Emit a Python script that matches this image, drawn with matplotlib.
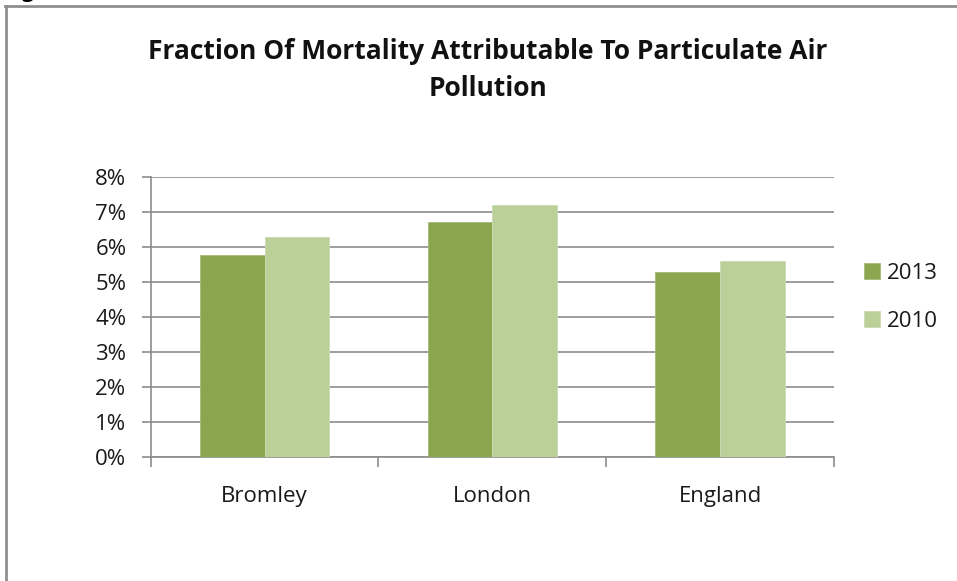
import matplotlib
matplotlib.use("Agg")
import matplotlib.pyplot as plt
from matplotlib.lines import Line2D
from matplotlib.ticker import FuncFormatter, FixedLocator
import numpy as np

categories = ["Bromley", "London", "England"]
series_names = ["2013", "2010"]
values_2013 = [5.77, 6.73, 5.29]
values_2010 = [6.29, 7.20, 5.59]
y_ticks = [0, 1, 2, 3, 4, 5, 6, 7, 8]
title = "Fraction Of Mortality Attributable To Particulate Air\nPollution"

c2013 = "#8AA64E"
c2010 = "#BBCF98"
grid_c = "#8C8C8C"
font = "Open Sans"

fig = plt.figure(figsize=(9.57, 5.81), dpi=100)
fig.patch.set_facecolor("white")
ax = fig.add_axes([150.7/957, 1-456.7/581, (834-150.7)/957, (456.7-177.3)/581])

x = np.arange(len(categories))
w = 0.284
ax.bar(x - w/2, values_2013, w, color=c2013, edgecolor="#A3B978", linewidth=0.6, label=series_names[0], zorder=3)
ax.bar(x + w/2, values_2010, w, color=c2010, edgecolor="#CCDBB2", linewidth=0.6, label=series_names[1], zorder=3)

ax.set_xlim(-0.5, 2.5)
ax.set_ylim(0, 8)
ax.set_yticks(y_ticks)
ax.yaxis.set_major_formatter(FuncFormatter(lambda v, p: f"{int(v)}%"))
ax.set_xticks(x)
ax.set_xticklabels(categories)
ax.xaxis.set_minor_locator(FixedLocator([-0.5, 0.5, 1.5, 2.5]))
ax.tick_params(axis="x", which="major", length=0, pad=21)
ax.tick_params(axis="x", which="minor", length=7, width=1.2, color=grid_c, direction="out")
ax.tick_params(axis="y", length=6.5, width=1.2, color=grid_c, pad=11)
for lab in ax.get_xticklabels() + ax.get_yticklabels():
    lab.set_fontfamily(font)
    lab.set_fontsize(16)
    lab.set_color("#1a1a1a")

ax.grid(axis="y", color=grid_c, linewidth=1.2, zorder=0)
ax.set_axisbelow(True)
for s in ["top", "right"]:
    ax.spines[s].set_visible(False)
for s in ["left", "bottom"]:
    ax.spines[s].set_color(grid_c)
    ax.spines[s].set_linewidth(1.2)

leg = ax.legend(loc="upper left", bbox_to_anchor=(864/957, 1-263/581), bbox_transform=fig.transFigure,
                frameon=False, prop={"family": font, "size": 16}, handlelength=0.7, handleheight=0.7,
                handletextpad=0.35, labelspacing=1.2, borderpad=0, borderaxespad=0)
for t in leg.get_texts():
    t.set_color("#1a1a1a")

fig.text(487.5/957, 1-70/581, title, ha="center", va="center", fontsize=19, fontweight="bold",
         family=font, linespacing=1.5, color="#111111")

# border of the chart frame (top and left visible)
fig.add_artist(Line2D([6/957, 6/957], [0, 1-6/581], transform=fig.transFigure, color="#8F8F8F", linewidth=2))
fig.add_artist(Line2D([5/957, 1], [1-6/581, 1-6/581], transform=fig.transFigure, color="#8F8F8F", linewidth=2))
# clipped caption letter above the frame
fig.text(22/957, 1+3/581, "g", fontsize=15, fontweight="bold", family=font, va="baseline", ha="left")

fig.savefig("out.png", dpi=100, facecolor="white")
